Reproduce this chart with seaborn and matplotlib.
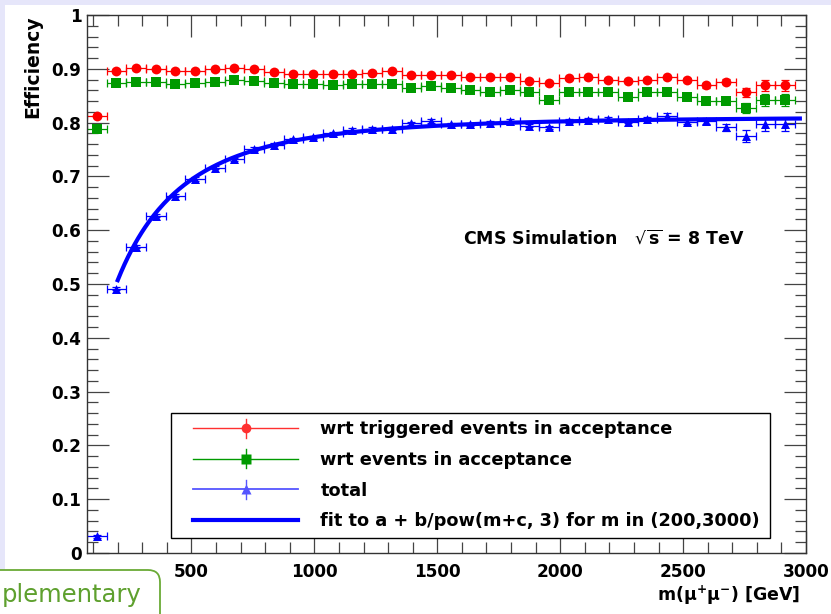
import numpy as np
import pandas as pd
import matplotlib
matplotlib.use("Agg")
import matplotlib.pyplot as plt
import seaborn as sns
from matplotlib.lines import Line2D
from matplotlib.legend_handler import HandlerBase
from matplotlib.patches import Rectangle, FancyBboxPatch
from matplotlib.ticker import MultipleLocator, FuncFormatter

# ---------------- data ----------------
mass = [115, 195, 275, 355, 435, 515, 595, 675, 755, 835, 915, 995,
        1075, 1155, 1235, 1315, 1395, 1475, 1555, 1635, 1715, 1795, 1875, 1955,
        2035, 2115, 2195, 2275, 2355, 2435, 2515, 2595, 2675, 2755, 2835, 2915]
bin_half_width = 40

eff_trig = [0.813, 0.896, 0.901, 0.899, 0.896, 0.896, 0.899, 0.901, 0.899, 0.894,
            0.891, 0.891, 0.891, 0.891, 0.893, 0.895, 0.889, 0.889, 0.889,
            0.885, 0.885, 0.885, 0.878, 0.873, 0.882, 0.884, 0.879, 0.878, 0.879,
            0.884, 0.879, 0.869, 0.876, 0.856, 0.869, 0.869]
err_trig = [0.003] * 31 + [0.004, 0.005, 0.008, 0.011, 0.011]

eff_acc = [0.789, 0.873, 0.875, 0.875, 0.872, 0.874, 0.876, 0.879, 0.877, 0.874,
           0.872, 0.872, 0.870, 0.872, 0.872, 0.872, 0.864, 0.868, 0.865,
           0.861, 0.857, 0.861, 0.856, 0.842, 0.857, 0.856, 0.856, 0.848, 0.856,
           0.857, 0.848, 0.841, 0.840, 0.827, 0.842, 0.842]
err_acc = [0.003] * 31 + [0.005, 0.006, 0.009, 0.012, 0.012]

eff_total = [0.031, 0.491, 0.569, 0.627, 0.664, 0.695, 0.716, 0.732, 0.751, 0.759,
             0.769, 0.773, 0.780, 0.787, 0.788, 0.789, 0.799, 0.803, 0.797,
             0.797, 0.800, 0.803, 0.794, 0.791, 0.803, 0.805, 0.807, 0.802, 0.807,
             0.812, 0.801, 0.803, 0.791, 0.775, 0.797, 0.797]
err_total = [0.003] * 29 + [0.005, 0.004, 0.005, 0.007, 0.011, 0.012, 0.012]

fit_a, fit_b, fit_c = 0.811, -1.556e8, 600.0
fit_range = (200, 2975)

series_names = ["wrt triggered events in acceptance", "wrt events in acceptance", "total"]
fit_label = "fit to a + b/pow(m+c, 3) for m in (200,3000)"
x_ticks = [500, 1000, 1500, 2000, 2500, 3000]
y_ticks = [0, 0.1, 0.2, 0.3, 0.4, 0.5, 0.6, 0.7, 0.8, 0.9, 1.0]

# ---------------- style ----------------
RED, GREEN, BLUE = "#ff0000", "#009a00", "#0000ff"
colors = [RED, GREEN, BLUE]
markers = ["o", "s", "^"]
sizes = [50, 46, 42]

plt.rcParams["font.family"] = ["DejaVu Sans"]
plt.rcParams["mathtext.fontset"] = "dejavusans"
plt.rcParams["mathtext.default"] = "regular"

W, H = 831, 614
fig = plt.figure(figsize=(W / 100, H / 100), dpi=100, facecolor="white")
ax = fig.add_axes([87 / W, 61 / H, 719 / W, 538 / H])

# slide background bits
fig.patches.append(Rectangle((0, 1 - 5 / H), 1, 5 / H, transform=fig.transFigure,
                             facecolor="#e6e6fa", edgecolor="none", zorder=-5))
fig.patches.append(Rectangle((0, 44 / H), 5 / W, 1 - 44 / H, transform=fig.transFigure,
                             facecolor="#e6e6fa", edgecolor="none", zorder=-5))

frames = []
for name, eff, err in zip(series_names, [eff_trig, eff_acc, eff_total],
                          [err_trig, err_acc, err_total]):
    frames.append(pd.DataFrame({"mass": mass, "eff": eff, "err": err, "series": name}))
df = pd.concat(frames, ignore_index=True)

# error bars
for name, col in zip(series_names, colors):
    d = df[df["series"] == name]
    ax.errorbar(d["mass"], d["eff"], xerr=bin_half_width, yerr=d["err"], fmt="none",
                ecolor=col, elinewidth=0.9, capsize=2.6, capthick=0.9, zorder=2)

# markers
for name, col, mk, sz in zip(series_names, colors, markers, sizes):
    d = df[df["series"] == name]
    sns.scatterplot(data=d, x="mass", y="eff", color=col, marker=mk, s=sz,
                    linewidth=0, ax=ax, zorder=3, legend=False)

# fit curve
m_fit = np.linspace(fit_range[0], fit_range[1], 400)
fit_df = pd.DataFrame({"m": m_fit, "f": fit_a + fit_b / (m_fit + fit_c) ** 3})
sns.lineplot(data=fit_df, x="m", y="f", color=BLUE, linewidth=3.0, ax=ax, zorder=4,
             legend=False)

# axes
ax.set_xlim(75, 3000)
ax.set_ylim(0, 1)
ax.set_xlabel("")
ax.set_ylabel("")
ax.set_xticks(x_ticks)
ax.set_yticks(y_ticks)
ax.xaxis.set_minor_locator(MultipleLocator(100))
ax.yaxis.set_minor_locator(MultipleLocator(0.02))
ax.yaxis.set_major_formatter(FuncFormatter(lambda v, p: f"{v:g}"))
ax.tick_params(which="both", direction="in", top=True, right=True,
               labeltop=False, labelright=False, colors="#444444", width=0.9,
               labelcolor="black", labelsize=12.2)
ax.tick_params(which="major", length=16)
ax.tick_params(which="minor", length=8)
ax.tick_params(axis="y", pad=4)
ax.tick_params(axis="x", pad=7)
for lab in ax.get_xticklabels() + ax.get_yticklabels():
    lab.set_fontweight("bold")
for sp in ax.spines.values():
    sp.set_color("#333333")
    sp.set_linewidth(1.0)

fig.text(32.5 / W, 1 - 15 / H, "Efficiency", rotation=90, ha="center", va="top",
         fontsize=13.5, fontweight="bold")
fig.text(800 / W, 1 - 595 / H, r"m($\mu^{+}\mu^{-}$) [GeV]", ha="right", va="center",
         fontsize=12.5, fontweight="bold")
ax.text((463 - 87) / 719, (553 - 238) / 538,
        r"CMS Simulation   $\sqrt{\mathbf{s}}$ = 8 TeV", transform=ax.transAxes,
        ha="left", va="center", fontsize=12.5, fontweight="bold")


# legend
class ErrHandler(HandlerBase):
    def __init__(self, color, marker=None, ms=0.0, lw=1.0, vbar=True,
                 left=10.8, right=9.4):
        super().__init__()
        self.color, self.marker, self.ms, self.lw = color, marker, ms, lw
        self.vbar, self.left, self.right = vbar, left, right

    def create_artists(self, legend, orig_handle, xdescent, ydescent, width,
                       height, fontsize, trans):
        x0 = -xdescent + self.left
        x1 = -xdescent + width - self.right
        xm = 0.5 * (x0 + x1)
        y = -ydescent + height / 2
        arts = [Line2D([x0, x1], [y, y], color=self.color, lw=self.lw, transform=trans)]
        if self.vbar:
            arts.append(Line2D([xm, xm], [y - 6.8, y + 6.8], color=self.color, lw=1.0,
                               transform=trans))
        if self.marker:
            arts.append(Line2D([xm], [y], marker=self.marker, ms=self.ms, color=self.color,
                               ls="none", mec="none", transform=trans))
        return arts


h_trig, h_acc, h_tot, h_fit = (Line2D([], []) for _ in range(4))
hmap = {
    h_trig: ErrHandler("#ff3030", "o", 7.0),
    h_acc: ErrHandler(GREEN, "s", 6.5),
    h_tot: ErrHandler("#5555ff", "^", 6.5, lw=1.3),
    h_fit: ErrHandler(BLUE, None, 0, lw=3.0, vbar=False),
}
leg = ax.legend([h_trig, h_acc, h_tot, h_fit], series_names + [fit_label],
                handler_map=hmap, loc="upper left",
                bbox_to_anchor=((171 - 87) / 719, (553 - 535) / 538, (770 - 171) / 719,
                                (535 - 413) / 538),
                mode="expand", borderaxespad=0, borderpad=0.42, handlelength=7.51,
                handletextpad=0.51, labelspacing=0.71, fancybox=False, framealpha=1,
                prop={"weight": "bold", "size": 12.75})
leg.get_frame().set_edgecolor("black")
leg.get_frame().set_linewidth(1.0)

# slide artefact at bottom-left
box = FancyBboxPatch((-0.3, -0.3), 1.9, 0.74, boxstyle="round,pad=0,rounding_size=0.12",
                     transform=fig.dpi_scale_trans, facecolor="white",
                     edgecolor="#6aaa36", linewidth=1.3, zorder=5)
fig.patches.append(box)
fig.text(2 / W, 12 / H, "plementary", ha="left", va="baseline", fontsize=17.5,
         color="#5ea02e", zorder=6)

fig.savefig("out.png", dpi=100, facecolor="white")
